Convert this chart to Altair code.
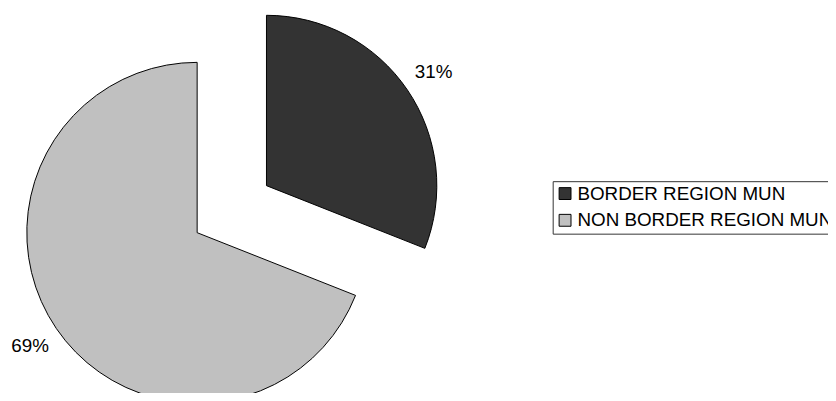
import altair as alt
import pandas as pd

categories = ["BORDER REGION MUN", "NON BORDER REGION MUN"]
values = [31, 69]
colors = ["#333333", "#c0c0c0"]

df = pd.DataFrame({"category": categories, "value": values, "idx": [0, 1]})

base = alt.Chart(df).transform_window(
    cum="sum(value)", sort=[alt.SortField("idx")]
).transform_calculate(
    start="datum.cum - datum.value",
    mid="datum.cum - datum.value / 2",
    label="datum.value + '%'",
)

theta_scale = alt.Scale(domain=[0, 100], range=[0, 6.283185307179586])
color = alt.Color(
    "category:N",
    scale=alt.Scale(domain=categories, range=colors),
    legend=alt.Legend(
        title=None,
        orient="none",
        legendX=550,
        legendY=173,
        symbolType="square",
        symbolSize=144,
        symbolStrokeColor="black",
        symbolStrokeWidth=1,
        labelFontSize=19,
        labelFont="Liberation Sans",
        labelColor="black",
        labelOffset=3,
        rowPadding=7,
        padding=3,
        strokeColor="#333333",
        fillColor="white",
        labelLimit=400,
    ),
)

centers = [(261, 177.5), (191, 225)]

layers = []
for i, cat in enumerate(categories):
    cx, cy = centers[i]
    arc = base.transform_filter(alt.datum.category == cat).mark_arc(
        outerRadius=172, stroke="black", strokeWidth=1, x=cx, y=cy
    ).encode(
        theta=alt.Theta("start:Q", scale=theta_scale, stack=False),
        theta2="cum:Q",
        color=color,
    )
    txt = base.transform_filter(alt.datum.category == cat).mark_text(
        radius=204, x=cx, y=cy, fontSize=19, font="Liberation Sans", color="black"
    ).encode(
        theta=alt.Theta("mid:Q", scale=theta_scale, stack=False),
        text="label:N",
    )
    layers += [arc, txt]

chart = alt.layer(*layers).properties(
    width=828, height=385, padding=0, autosize=alt.AutoSizeParams(type="none")
).configure_view(stroke=None)

chart.save("out.html", embed_options={"renderer": "svg", "actions": False})
